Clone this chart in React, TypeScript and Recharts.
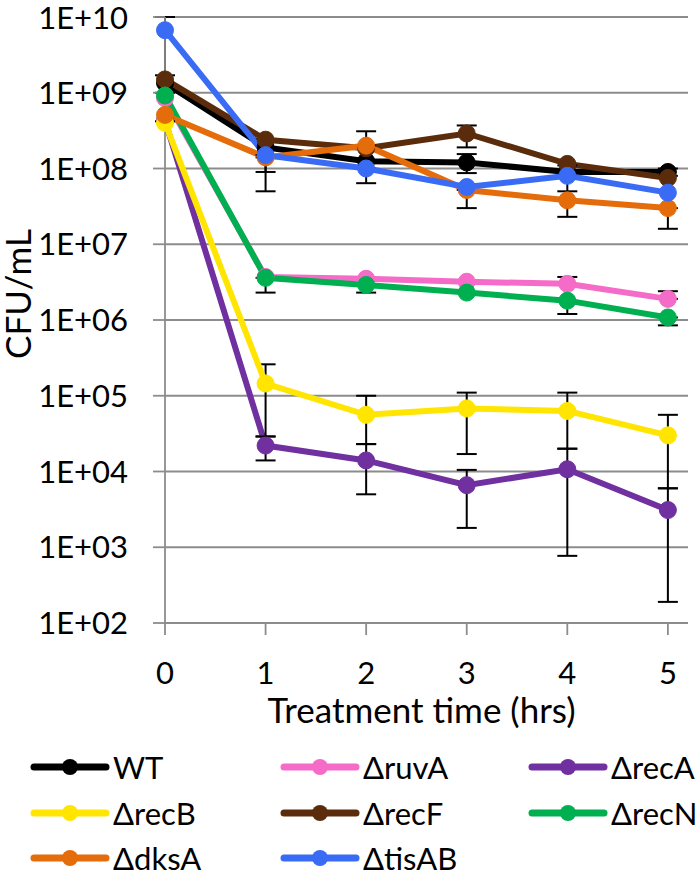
import { LineChart, Line, XAxis, YAxis, CartesianGrid, ErrorBar } from "recharts";

const FONT = "Lato, 'Open Sans', sans-serif";

const hours = [0, 1, 2, 3, 4, 5];
const yTicks = [1e2, 1e3, 1e4, 1e5, 1e6, 1e7, 1e8, 1e9, 1e10];

// CFU/mL per strain
const wt = [1.35e9, 1.9e8, 1.25e8, 1.2e8, 9e7, 9e7];
const ruvA = [8.5e8, 3.7e6, 3.5e6, 3.2e6, 3.0e6, 1.9e6];
const recA = [4.3e8, 2.2e4, 1.4e4, 6.6e3, 1.07e4, 3.1e3];
const recB = [4.0e8, 1.45e5, 5.6e4, 6.8e4, 6.3e4, 3.0e4];
const recF = [1.5e9, 2.4e8, 1.85e8, 2.9e8, 1.15e8, 7.5e7];
const recN = [9.2e8, 3.6e6, 2.9e6, 2.3e6, 1.8e6, 1.08e6];
const dksA = [5.1e8, 1.4e8, 2.0e8, 5.2e7, 3.8e7, 3.0e7];
const tisAB = [6.7e9, 1.5e8, 1.0e8, 5.7e7, 8.0e7, 4.8e7];

// error bar ends (null = not visible)
const wtLow = [1.0e9, null, null, 8.7e7, null, 8e7];
const wtHigh = [1.7e9, null, null, 1.55e8, null, 1.0e8];
const ruvAHigh = [null, null, null, null, 3.7e6, 2.4e6];
const recALow = [null, 1.4e4, 5e3, 1.8e3, 7.7e2, 1.9e2];
const recAHigh = [null, 2.9e4, 2.3e4, 1.05e4, 2.0e4, 6e3];
const recBLow = [null, 2.9e4, 2.3e4, 1.7e4, 2.0e4, 6e3];
const recBHigh = [null, 2.6e5, 1.0e5, 1.1e5, 1.1e5, 5.6e4];
const recFLow = [null, null, null, 1.9e8, null, null];
const recFHigh = [null, null, null, 3.7e8, null, null];
const recNLow = [null, 2.3e6, 2.3e6, null, 1.2e6, 8.5e5];
const dksALow = [null, 5e7, null, 3e7, 2.3e7, 1.6e7];
const dksAHigh = [null, null, 3.1e8, null, null, null];
const tisABLow = [4.2e8, 9e7, 6.4e7, null, 5e7, null];
const tisABHigh = [1e10, null, null, null, 1.1e8, null];

type Series = {
  key: string;
  name: string;
  color: string;
  values: number[];
  low?: (number | null)[];
  high?: (number | null)[];
};

const series: Series[] = [
  { key: "wt", name: "WT", color: "#000000", values: wt, low: wtLow, high: wtHigh },
  { key: "ruvA", name: "ΔruvA", color: "#F46BC8", values: ruvA, high: ruvAHigh },
  { key: "recA", name: "ΔrecA", color: "#7030A0", values: recA, low: recALow, high: recAHigh },
  { key: "recB", name: "ΔrecB", color: "#FFE500", values: recB, low: recBLow, high: recBHigh },
  { key: "recF", name: "ΔrecF", color: "#5B2C0C", values: recF, low: recFLow, high: recFHigh },
  { key: "recN", name: "ΔrecN", color: "#00B050", values: recN, low: recNLow },
  { key: "dksA", name: "ΔdksA", color: "#E46C0A", values: dksA, low: dksALow, high: dksAHigh },
  { key: "tisAB", name: "ΔtisAB", color: "#3A6BF5", values: tisAB, low: tisABLow, high: tisABHigh },
];

const data = hours.map((t, i) => {
  const row: Record<string, any> = { t };
  series.forEach((s) => {
    const v = s.values[i];
    row[s.key] = v;
    const lo = s.low ? s.low[i] : null;
    const hi = s.high ? s.high[i] : null;
    if (lo != null || hi != null) {
      row[s.key + "Err"] = [lo != null ? v - lo : 0, hi != null ? hi - v : 0];
    }
  });
  return row;
});

const fmtExp = (v: number) => {
  const e = Math.round(Math.log10(v));
  return "1E+" + String(e).padStart(2, "0");
};

const legendCols = [30, 280, 528];
const legendRows = [767, 813, 858];

export default function App() {
  return (
    <div
      style={{
        position: "absolute",
        left: 0,
        top: 0,
        width: 700,
        height: 871,
        background: "#fff",
        fontFamily: FONT,
      }}
    >
      <LineChart
        width={700}
        height={745}
        data={data}
        margin={{ top: 17, right: 12, left: 0, bottom: 0 }}
      >
        <CartesianGrid vertical={false} stroke="#8c8c8c" strokeWidth={1.8} />
        <XAxis
          dataKey="t"
          type="number"
          domain={[0, 5.2]}
          ticks={hours}
          height={122}
          tickSize={12}
          tickMargin={27}
          axisLine={{ stroke: "#8c8c8c", strokeWidth: 1.8 }}
          tickLine={{ stroke: "#8c8c8c", strokeWidth: 1.8 }}
          tick={{ fill: "#000", fontSize: 31, fontFamily: FONT }}
          label={(props: any) => {
            const vb = props.viewBox;
            return (
              <text
                x={vb.x + vb.width / 2 - 5}
                y={vb.y + 100}
                textAnchor="middle"
                fontSize={35}
                fontFamily={FONT}
                fill="#000"
              >
                Treatment time (hrs)
              </text>
            );
          }}
        />
        <YAxis
          scale="log"
          domain={[1e2, 1e10]}
          ticks={yTicks}
          allowDataOverflow
          width={165}
          tickSize={12}
          tickMargin={25}
          tickFormatter={fmtExp}
          axisLine={{ stroke: "#8c8c8c", strokeWidth: 1.8 }}
          tickLine={{ stroke: "#8c8c8c", strokeWidth: 1.8 }}
          tick={{ fill: "#000", fontSize: 31, fontFamily: FONT }}
          label={(props: any) => {
            const vb = props.viewBox;
            const cy = vb.y + vb.height / 2 - 26;
            return (
              <text
                x={17}
                y={cy}
                transform={`rotate(-90, 17, ${cy})`}
                textAnchor="middle"
                dominantBaseline="central"
                fontSize={35}
                fontFamily={FONT}
                fill="#000"
              >
                CFU/mL
              </text>
            );
          }}
        />
        {series.map((s) => (
          <Line
            key={s.key}
            dataKey={s.key}
            name={s.name}
            stroke={s.color}
            strokeWidth={6}
            dot={{ r: 8.5, fill: s.color, stroke: s.color, strokeWidth: 1 }}
            isAnimationActive={false}
          >
            <ErrorBar
              dataKey={s.key + "Err"}
              width={10}
              stroke="#000"
              strokeWidth={2}
              direction="y"
            />
          </Line>
        ))}
      </LineChart>
      {series.map((s, i) => {
        const col = legendCols[i % 3];
        const row = legendRows[Math.floor(i / 3)];
        return (
          <div
            key={s.key}
            style={{
              position: "absolute",
              left: col,
              top: row - 24,
              height: 48,
              lineHeight: "48px",
              display: "flex",
              alignItems: "center",
              fontSize: 31,
              color: "#000",
              whiteSpace: "nowrap",
            }}
          >
            <svg width={80} height={20} style={{ marginRight: 3 }}>
              <line x1={4} y1={10} x2={76} y2={10} stroke={s.color} strokeWidth={7} strokeLinecap="round" />
              <circle cx={40} cy={10} r={8} fill={s.color} />
            </svg>
            <span>{s.name}</span>
          </div>
        );
      })}
    </div>
  );
}
